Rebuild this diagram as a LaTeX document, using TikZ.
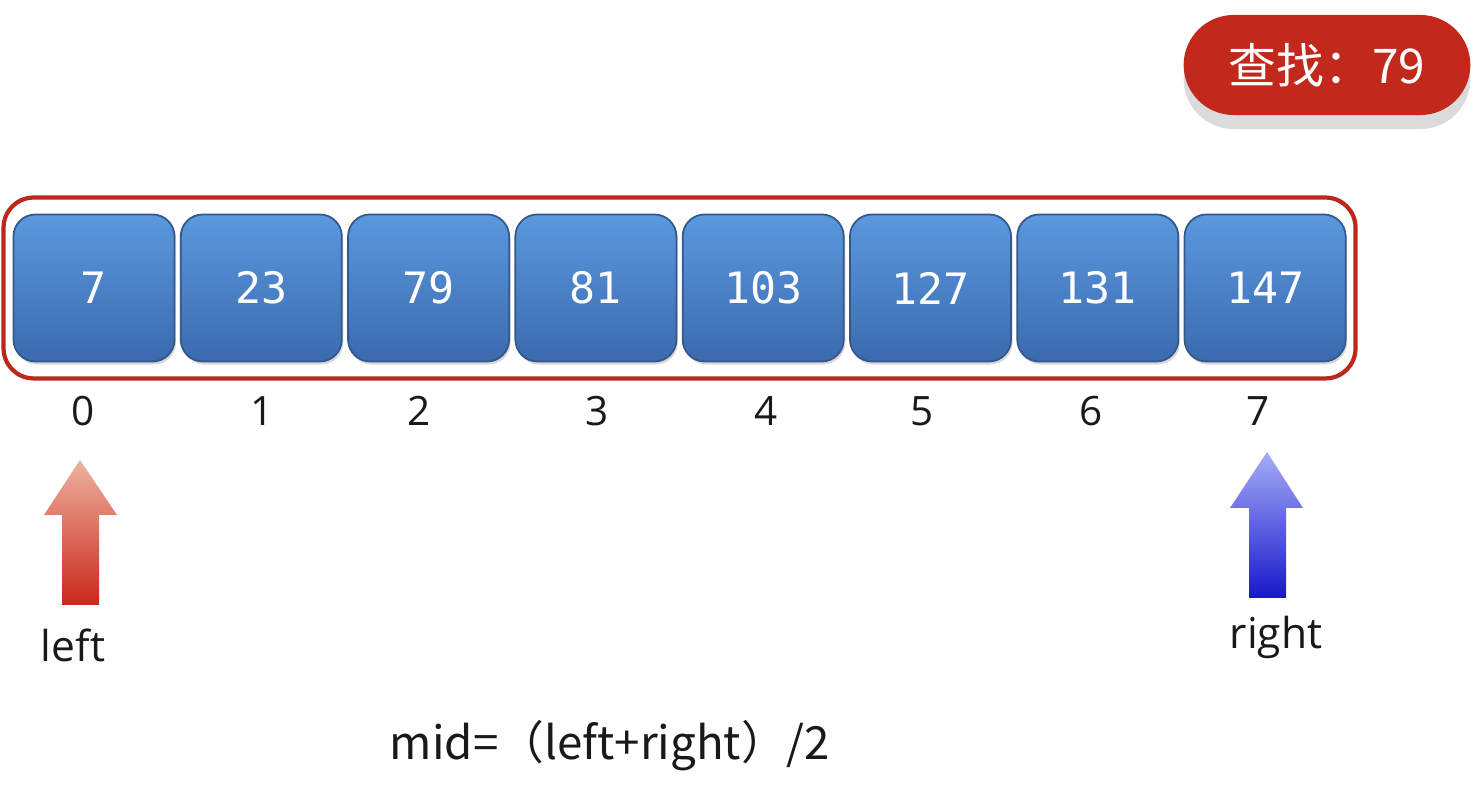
\documentclass[tikz,border=0pt]{standalone}
\usepackage{fontspec}
\setmainfont{Open Sans}
\setmonofont{DejaVu Sans Mono}
\newfontfamily\cjk{Noto Sans CJK SC}
\usetikzlibrary{fit,shadows,shapes.misc}

\definecolor{celltop}{HTML}{5B98DE}
\definecolor{cellbot}{HTML}{3B6AAE}
\definecolor{celledge}{HTML}{34578C}
\definecolor{framered}{HTML}{BA291D}
\definecolor{pillred}{HTML}{C2291C}
\definecolor{leftlight}{HTML}{EEB2A0}
\definecolor{leftdark}{HTML}{C8281C}
\definecolor{rightlight}{HTML}{A6ACF8}
\definecolor{rightdark}{HTML}{1818CA}

\tikzset{
  cell/.style={draw=celledge, line width=0.5pt, top color=celltop, bottom color=cellbot,
    rounded corners=0.22cm, minimum width=1.61cm, minimum height=1.47cm, inner sep=0pt,
    text=white, font=\ttfamily\fontsize{12.3}{14}\selectfont,
    drop shadow={opacity=0.3, shadow xshift=0.015cm, shadow yshift=-0.03cm}},
  frame/.style={draw=framered, line width=1.2pt, rounded corners=0.3cm,
    inner xsep=0.09cm, inner ysep=0.16cm},
  index/.style={font=\fontsize{11.5}{14}\selectfont, text=black!90},
  pill/.style={rounded rectangle, fill=pillred, minimum width=3.1cm, minimum height=1cm,
    text=white, font=\cjk\fontsize{13.6}{16}\selectfont,
    drop shadow={fill=black!14, opacity=1, shadow xshift=0cm, shadow yshift=-0.14cm}},
  ptrlabel/.style={font=\fontsize{12.1}{14}\selectfont, text=black!90}
}

\begin{document}
\begin{tikzpicture}[x=0.01cm, y=-0.01cm]
    \useasboundingbox[fill=white] (0,0) rectangle (1478,792);

    % Query
    \node[pill] (query) at (1327,65) {查找：79};

    % Array cells
    \foreach \val [count=\i from 0] in {7,23,79,81,103,127,131,147}
        \node[cell] (box\i) at ({94+167.3*\i},288) {\val};
    \node[frame, fit=(box0)(box7)] (array) {};

    % Indices
    \foreach \i/\x in {0/83,1/262,2/419,3/597,4/766,5/922,6/1091,7/1258}
        \node[index] (idx\i) at (\x,411) {\i};

    % Left pointer
    \shade[top color=leftlight, bottom color=leftdark]
        (62,605) -- (62,515) -- (44,515) -- (80,460) -- (117,515) -- (99,515) -- (99,605) -- cycle;
    \node[ptrlabel] (leftlbl) at (73,645) {left};

    % Right pointer
    \shade[top color=rightlight, bottom color=rightdark]
        (1249,598) -- (1249,508) -- (1230,508) -- (1267,452) -- (1303,508) -- (1286,508) -- (1286,598) -- cycle;
    \node[ptrlabel] (rightlbl) at (1276,637) {right};

    % Formula
    \node[ptrlabel, font=\cjk\fontsize{13}{16}\selectfont] (formula) at (610,746) {mid=（left+right）/2};
\end{tikzpicture}
\end{document}
